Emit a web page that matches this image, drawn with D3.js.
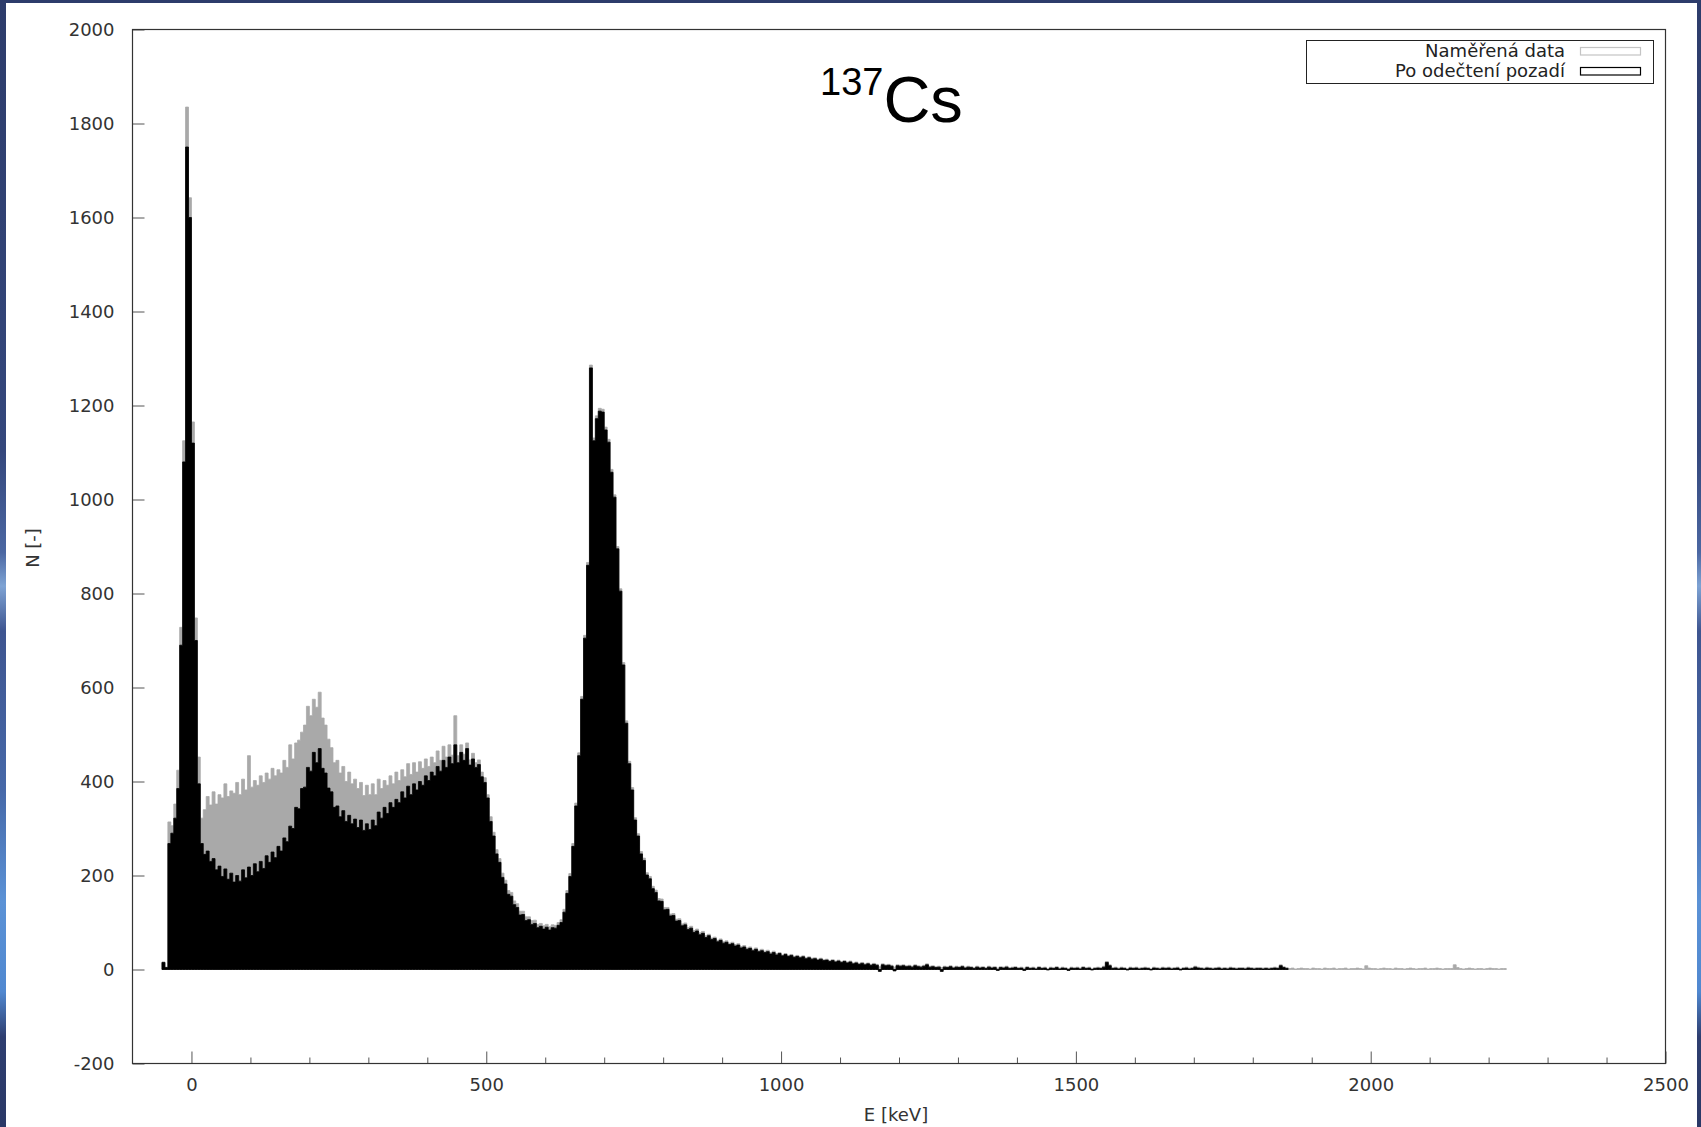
<!DOCTYPE html>
<html>
<head>
<meta charset="utf-8">
<script src="https://cdn.jsdelivr.net/npm/d3@7"></script>
<style>
  html, body { margin: 0; padding: 0; background: #fff; }
  svg { display: block; }
</style>
</head>
<body>
<svg id="chart" width="1701" height="1127"></svg>
<script>
// 137Cs spectrum, histogram bins of 5 keV starting at -50 keV
const binStartKeV = -50;
const binWidthKeV = 5;

// Naměřená data (measured)
const measuredCounts = [
  16, 5, 314, 306, 352, 424, 728, 1125, 1835, 1642,
  1165, 748, 452, 322, 340, 368, 350, 378, 352, 372,
  365, 395, 368, 380, 375, 398, 372, 405, 382, 455,
  388, 402, 392, 412, 398, 418, 405, 428, 412, 425,
  418, 445, 430, 478, 448, 482, 488, 505, 520, 560,
  540, 575, 558, 590, 535, 520, 490, 472, 440, 445,
  418, 432, 400, 420, 395, 405, 385, 398, 370, 392,
  372, 395, 372, 405, 385, 402, 392, 412, 395, 420,
  402, 425, 410, 438, 415, 440, 420, 442, 428, 448,
  432, 452, 440, 465, 445, 475, 452, 478, 456, 540,
  455, 478, 458, 482, 446, 460, 440, 446, 420, 408,
  372, 325, 292, 255, 236, 205, 190, 168, 164, 146,
  140, 124, 124, 112, 112, 104, 105, 96, 98, 93,
  96, 91, 95, 94, 100, 106, 128, 168, 204, 268,
  354, 461, 581, 711, 866, 1286, 1131, 1178, 1194, 1192,
  1154, 1128, 1064, 1010, 900, 810, 653, 529, 443, 387,
  323, 289, 251, 237, 206, 198, 177, 169, 151, 150,
  132, 132, 118, 119, 107, 108, 97, 99, 89, 92,
  83, 86, 78, 81, 72, 75, 67, 69, 62, 65,
  59, 61, 56, 58, 53, 55, 49, 51, 46, 48,
  43, 46, 41, 43, 39, 41, 36, 39, 34, 36,
  31, 34, 30, 32, 28, 30, 27, 29, 25, 27,
  24, 25, 22, 24, 21, 22, 19, 21, 18, 20,
  17, 19, 16, 18, 14, 16, 13, 15, 12, 14,
  11, 13, 11, 6, 12, 10, 11, 9, 5, 10,
  9, 10, 8, 9, 7, 10, 8, 7, 9, 12,
  7, 8, 6, 7, 4, 7, 6, 8, 5, 7,
  6, 8, 5, 7, 6, 4, 7, 5, 6, 4,
  7, 5, 6, 3, 6, 5, 7, 4, 5, 6,
  4, 5, 3, 6, 4, 5, 3, 6, 4, 5,
  2, 5, 4, 6, 3, 5, 4, 2, 5, 4,
  5, 3, 6, 4, 5, 2, 4, 5, 4, 7,
  17, 10, 4, 5, 3, 5, 4, 2, 5, 4,
  5, 3, 4, 5, 4, 2, 5, 4, 3, 5,
  4, 5, 3, 4, 5, 2, 4, 5, 3, 4,
  7, 5, 4, 3, 5, 4, 3, 4, 5, 3,
  4, 3, 5, 4, 3, 4, 4, 3, 5, 4,
  3, 4, 4, 3, 4, 3, 4, 5, 4, 10,
  6, 4, 2, 3, 1, 2, 3, 2, 2, 1,
  3, 2, 2, 1, 3, 2, 2, 3, 1, 2,
  2, 3, 1, 2, 2, 3, 2, 1, 8, 3,
  2, 2, 1, 2, 3, 2, 2, 1, 3, 2,
  2, 1, 2, 3, 2, 1, 2, 2, 3, 1,
  2, 2, 3, 2, 1, 2, 2, 2, 10, 4,
  2, 1, 2, 3, 2, 1, 2, 2, 1, 2,
  3, 2, 2, 1, 2, 2
];

// Po odečtení pozadí (background subtracted)
const netCounts = [
  15, 4, 268, 290, 322, 385, 690, 1080, 1750, 1600,
  1120, 700, 395, 268, 245, 252, 230, 236, 212, 220,
  198, 214, 192, 205, 186, 200, 188, 212, 195, 218,
  200, 225, 208, 230, 215, 242, 228, 250, 238, 262,
  252, 280, 272, 305, 300, 345, 342, 385, 388, 430,
  422, 462, 440, 470, 428, 418, 386, 378, 345, 348,
  325, 338, 315, 328, 310, 320, 302, 318, 296, 310,
  298, 318, 306, 335, 322, 345, 332, 355, 345, 362,
  355, 378, 365, 390, 372, 395, 382, 400, 392, 412,
  402, 420, 412, 432, 422, 445, 430, 452, 438, 478,
  440, 462, 445, 470, 435, 448, 430, 436, 410, 398,
  365, 315, 284, 246, 228, 196, 182, 160, 156, 138,
  132, 116, 117, 104, 106, 96, 98, 89, 92, 86,
  90, 84, 89, 88, 94, 100, 122, 162, 198, 262,
  348, 455, 575, 705, 860, 1280, 1125, 1172, 1188, 1186,
  1148, 1122, 1058, 1005, 895, 805, 648, 524, 438, 382,
  318, 284, 246, 232, 201, 193, 172, 164, 146, 145,
  127, 128, 114, 115, 103, 104, 93, 95, 85, 88,
  79, 82, 74, 77, 68, 72, 64, 66, 59, 62,
  56, 58, 53, 55, 50, 52, 46, 48, 43, 45,
  40, 43, 38, 40, 36, 38, 33, 36, 31, 34,
  29, 32, 28, 30, 26, 28, 25, 27, 23, 25,
  22, 23, 20, 22, 19, 20, 17, 19, 16, 18,
  15, 17, 14, 16, 12, 14, 11, 13, 10, 12,
  9, 11, 9, -4, 10, 8, 9, 7, -3, 8,
  7, 8, 6, 7, 5, 8, 6, 5, 7, 10,
  5, 6, 4, 5, -4, 5, 4, 6, 3, 5,
  4, 6, 3, 5, 4, 2, 5, 3, 4, 2,
  5, 3, 4, -2, 4, 3, 5, 2, 3, 4,
  2, 3, -2, 4, 2, 3, 1, 4, 2, 3,
  -1, 3, 2, 4, 1, 3, 2, -2, 3, 2,
  3, 1, 4, 2, 3, -1, 2, 3, 2, 5,
  15, 8, 2, 3, 1, 3, 2, -1, 3, 2,
  3, 1, 2, 3, 2, -1, 3, 2, 1, 3,
  2, 3, 1, 2, 3, -1, 2, 3, 1, 2,
  5, 3, 2, 1, 3, 2, 1, 2, 3, 1,
  2, 1, 3, 2, 1, 2, 2, 1, 3, 2,
  1, 2, 2, 1, 2, 1, 2, 3, 2, 8,
  4, 2
];

const yTickValues = [-200, 0, 200, 400, 600, 800, 1000, 1200, 1400, 1600, 1800, 2000];
const xTickValues = [0, 500, 1000, 1500, 2000, 2500];
const xMinorTickValues = [100, 200, 300, 400, 600, 700, 800, 900, 1100, 1200, 1300, 1400,
  1600, 1700, 1800, 1900, 2100, 2200, 2300, 2400];
const legendLabels = ['Naměřená data', 'Po odečtení pozadí'];
const seriesColors = ['#a9a9a9', '#000000'];
const keyColors = ['#c4c4c4', '#000000'];

const W = 1701, H = 1127;
const svg = d3.select('#chart');
const tickFont = 'DejaVu Sans, Verdana, sans-serif';

// slide background around the plot image
const defs = svg.append('defs');
const grad = defs.append('linearGradient').attr('id', 'slideBg')
  .attr('x1', 0).attr('y1', 0).attr('x2', 0).attr('y2', 1);
[[0, '#2d3c6b'], [0.4, '#34477c'], [0.49, '#4b67a2'], [0.52, '#7ea3d4'], [0.56, '#3e5590'],
 [0.7, '#4668a8'], [0.8, '#5b92d6'], [0.88, '#5088d0'], [0.92, '#2e3e70'], [1, '#2a3866']]
  .forEach(s => grad.append('stop').attr('offset', s[0]).attr('stop-color', s[1]));
svg.append('rect').attr('width', W).attr('height', H).attr('fill', 'url(#slideBg)');
svg.append('rect').attr('x', 6).attr('y', 3).attr('width', W - 6 - 4).attr('height', H - 3).attr('fill', '#fff');

const x = d3.scaleLinear().domain([-100, 2500]).range([132.5, 1665.5]);
const y = d3.scaleLinear().domain([-200, 2000]).range([1063.5, 29.5]);

// histogram drawn as one stepped area per series (boxes without seams)
function drawHistogram(counts, cls, color) {
  const bins = counts.map((v, i) => ({ e: binStartKeV + i * binWidthKeV, v: v }));
  // right edge of the last box
  bins.push({ e: binStartKeV + counts.length * binWidthKeV, v: counts[counts.length - 1] });
  const area = d3.area()
    .x(d => x(d.e))
    .y0(y(0))
    .y1(d => y(d.v))
    .curve(d3.curveStepAfter);
  svg.append('path').datum(bins)
    .attr('class', cls)
    .attr('d', area)
    .attr('fill', color)
    .attr('stroke', color)
    .attr('stroke-width', 0.8)
    .attr('stroke-linejoin', 'miter');
}

drawHistogram(measuredCounts, 'measured', seriesColors[0]);
drawHistogram(netCounts, 'net', seriesColors[1]);

// axes, ticks pointing into the plot
const fmt = d => String(d);
const yAxis = svg.append('g').attr('transform', `translate(${x(-100)},0)`)
  .call(d3.axisLeft(y).tickValues(yTickValues).tickFormat(fmt).tickSize(-12).tickSizeOuter(0).tickPadding(18));
const xAxis = svg.append('g').attr('transform', `translate(0,${y(-200)})`)
  .call(d3.axisBottom(x).tickValues(xTickValues).tickFormat(fmt).tickSize(-12).tickSizeOuter(0).tickPadding(15));
const xMinor = svg.append('g').attr('transform', `translate(0,${y(-200)})`)
  .call(d3.axisBottom(x).tickValues(xMinorTickValues).tickSize(-6).tickSizeOuter(0).tickFormat(''));

[yAxis, xAxis, xMinor].forEach(g => {
  g.select('.domain').remove();
  g.selectAll('line').attr('stroke', '#555').attr('stroke-width', 1);
  g.selectAll('text').attr('fill', '#333').attr('font-family', tickFont).attr('font-size', 18);
});
yAxis.selectAll('text').attr('dy', '0.33em');

// frame
svg.append('rect')
  .attr('x', x(-100)).attr('y', y(2000))
  .attr('width', x(2500) - x(-100)).attr('height', y(-200) - y(2000))
  .attr('fill', 'none').attr('stroke', '#333').attr('stroke-width', 1.2);

// axis labels
svg.append('text').attr('x', 896).attr('y', 1121)
  .attr('text-anchor', 'middle').attr('font-family', tickFont).attr('font-size', 18).attr('fill', '#333')
  .text('E [keV]');
svg.append('text').attr('transform', 'translate(39,548) rotate(-90)')
  .attr('text-anchor', 'middle').attr('font-family', tickFont).attr('font-size', 18).attr('fill', '#333')
  .text('N [-]');

// title 137Cs
const title = svg.append('text').attr('x', 820).attr('y', 121.7)
  .attr('font-family', 'Liberation Sans, Arial, sans-serif').attr('fill', '#000');
title.append('tspan').attr('font-size', 38).attr('dy', -26.7).text('137');
title.append('tspan').attr('font-size', 65).attr('dy', 26.7).text('Cs');

// legend
const legend = svg.append('g');
legend.append('rect').attr('x', 1306.5).attr('y', 40.5).attr('width', 347).attr('height', 43)
  .attr('fill', '#fff').attr('stroke', '#222').attr('stroke-width', 1);
legendLabels.forEach((label, i) => {
  legend.append('text').attr('x', 1565).attr('y', 56.5 + i * 20.5)
    .attr('text-anchor', 'end').attr('font-family', tickFont).attr('font-size', 18).attr('fill', '#222')
    .text(label);
  legend.append('rect').attr('x', 1580.5).attr('y', 47.5 + i * 20).attr('width', 60).attr('height', 7.5)
    .attr('fill', '#fff').attr('stroke', keyColors[i]).attr('stroke-width', 1.2);
});
</script>
</body>
</html>
